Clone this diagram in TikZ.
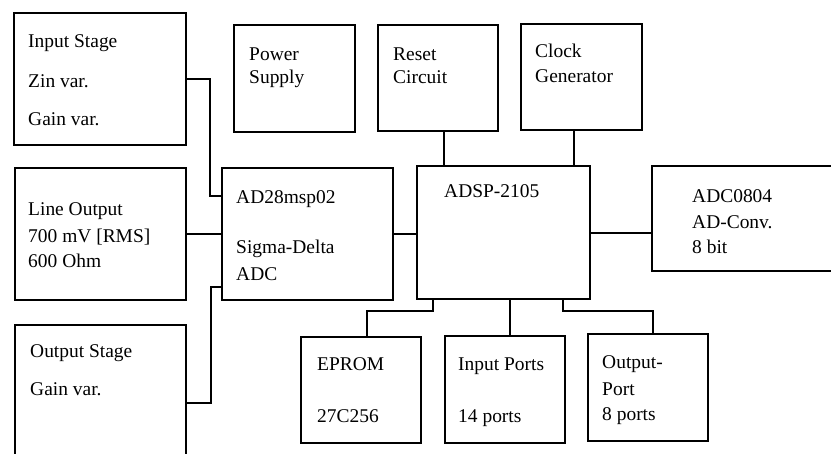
\documentclass[tikz,border=0pt]{standalone}
\usepackage{fontspec}
\setmainfont{Liberation Serif}
\usetikzlibrary{positioning}

\tikzset{
  blk/.style={draw,line width=1.7pt,inner sep=0pt},
  lbl/.style={anchor=base west,inner sep=0pt,font=\fontsize{16.6}{19}\selectfont},
  wire/.style={line width=1.6pt}
}

\begin{document}
\begin{tikzpicture}
\useasboundingbox (0,0) rectangle (24.93,-13.62);
% boxes
\node[blk,minimum width=5.16cm,minimum height=3.96cm] (inst) at (3.00,-2.37) {};
\node[blk,minimum width=5.13cm,minimum height=3.96cm] (lout) at (3.02,-7.02) {};
\node[blk,minimum width=5.13cm,minimum height=4.68cm] (outst) at (3.02,-12.09) {};
\node[blk,minimum width=3.63cm,minimum height=3.21cm] (pwr) at (8.84,-2.36) {};
\node[blk,minimum width=3.60cm,minimum height=3.18cm] (rst) at (13.14,-2.34) {};
\node[blk,minimum width=3.63cm,minimum height=3.18cm] (clk) at (17.45,-2.31) {};
\node[blk,minimum width=5.13cm,minimum height=3.96cm] (sdadc) at (9.23,-7.02) {};
\node[blk,minimum width=5.19cm,minimum height=3.99cm] (dsp) at (15.11,-6.98) {};
\node[blk,minimum width=5.64cm,minimum height=3.15cm] (adc) at (22.38,-6.56) {};
\node[blk,minimum width=3.60cm,minimum height=3.18cm] (eprom) at (10.83,-11.70) {};
\node[blk,minimum width=3.60cm,minimum height=3.21cm] (inp) at (15.15,-11.69) {};
\node[blk,minimum width=3.60cm,minimum height=3.21cm] (outp) at (19.44,-11.63) {};
% labels
\node[lbl] (inst-a) at (0.84,-1.41) {Input Stage};
\node[lbl] (inst-b) at (0.84,-2.61) {Zin var.};
\node[lbl] (inst-c) at (0.84,-3.75) {Gain var.};
\node[lbl] (pwr-a) at (7.47,-1.80) {Power};
\node[lbl] (pwr-b) at (7.47,-2.49) {Supply};
\node[lbl] (rst-a) at (11.79,-1.80) {Reset};
\node[lbl] (rst-b) at (11.79,-2.49) {Circuit};
\node[lbl] (clk-a) at (16.05,-1.71) {Clock};
\node[lbl] (clk-b) at (16.05,-2.46) {Generator};
\node[lbl] (lout-a) at (0.84,-6.45) {Line Output};
\node[lbl] (lout-b) at (0.84,-7.26) {700 mV [RMS]};
\node[lbl] (lout-c) at (0.84,-8.01) {600 Ohm};
\node[lbl] (sdadc-a) at (7.08,-6.09) {AD28msp02};
\node[lbl] (sdadc-b) at (7.08,-7.59) {Sigma-Delta};
\node[lbl] (sdadc-c) at (7.08,-8.40) {ADC};
\node[lbl] (dsp-a) at (13.32,-5.91) {ADSP-2105};
\node[lbl] (adc-a) at (20.76,-6.06) {ADC0804};
\node[lbl] (adc-b) at (20.76,-6.84) {AD-Conv.};
\node[lbl] (adc-c) at (20.76,-7.59) {8 bit};
\node[lbl] (outst-a) at (0.90,-10.71) {Output Stage};
\node[lbl] (outst-b) at (0.90,-11.85) {Gain var.};
\node[lbl] (eprom-a) at (9.51,-11.10) {EPROM};
\node[lbl] (eprom-b) at (9.51,-12.66) {27C256};
\node[lbl] (inp-a) at (13.74,-11.10) {Input Ports};
\node[lbl] (inp-b) at (13.74,-12.66) {14 ports};
\node[lbl] (outp-a) at (18.06,-11.04) {Output-};
\node[lbl] (outp-b) at (18.06,-11.85) {Port};
\node[lbl] (outp-c) at (18.06,-12.60) {8 ports};
% wiring
\coordinate (j1) at (6.30,-5.88);
\coordinate (j2) at (6.33,-8.61);
\draw[wire] (inst.east) -| (j1) -- (j1 -| sdadc.west);
\draw[wire] (lout.east) -- (lout.east -| sdadc.west);
\draw[wire] (outst.east) -| (j2) -- (j2 -| sdadc.west);
\draw[wire] (sdadc.east) -- (sdadc.east -| dsp.west);
\draw[wire] ([xshift=0.18cm]rst.south) -- ([xshift=0.18cm]rst.south |- dsp.north);
\draw[wire] ([xshift=-0.22cm]clk.south) -- ([xshift=-0.22cm]clk.south |- dsp.north);
\draw[wire] (dsp.east) -- (dsp.east -| adc.west);
\coordinate (e1) at (12.99,-9.33);
\coordinate (e2) at (11.01,-9.33);
\draw[wire] (e1 |- dsp.south) -- (e1) -- (e2) -- (e2 |- eprom.north);
\draw[wire] ([xshift=0.15cm]inp.north) -- ([xshift=0.15cm]inp.north |- dsp.south);
\coordinate (o1) at (16.89,-9.33);
\coordinate (o2) at (19.59,-9.33);
\draw[wire] (o1 |- dsp.south) -- (o1) -- (o2) -- (o2 |- outp.north);
\end{tikzpicture}
\end{document}
